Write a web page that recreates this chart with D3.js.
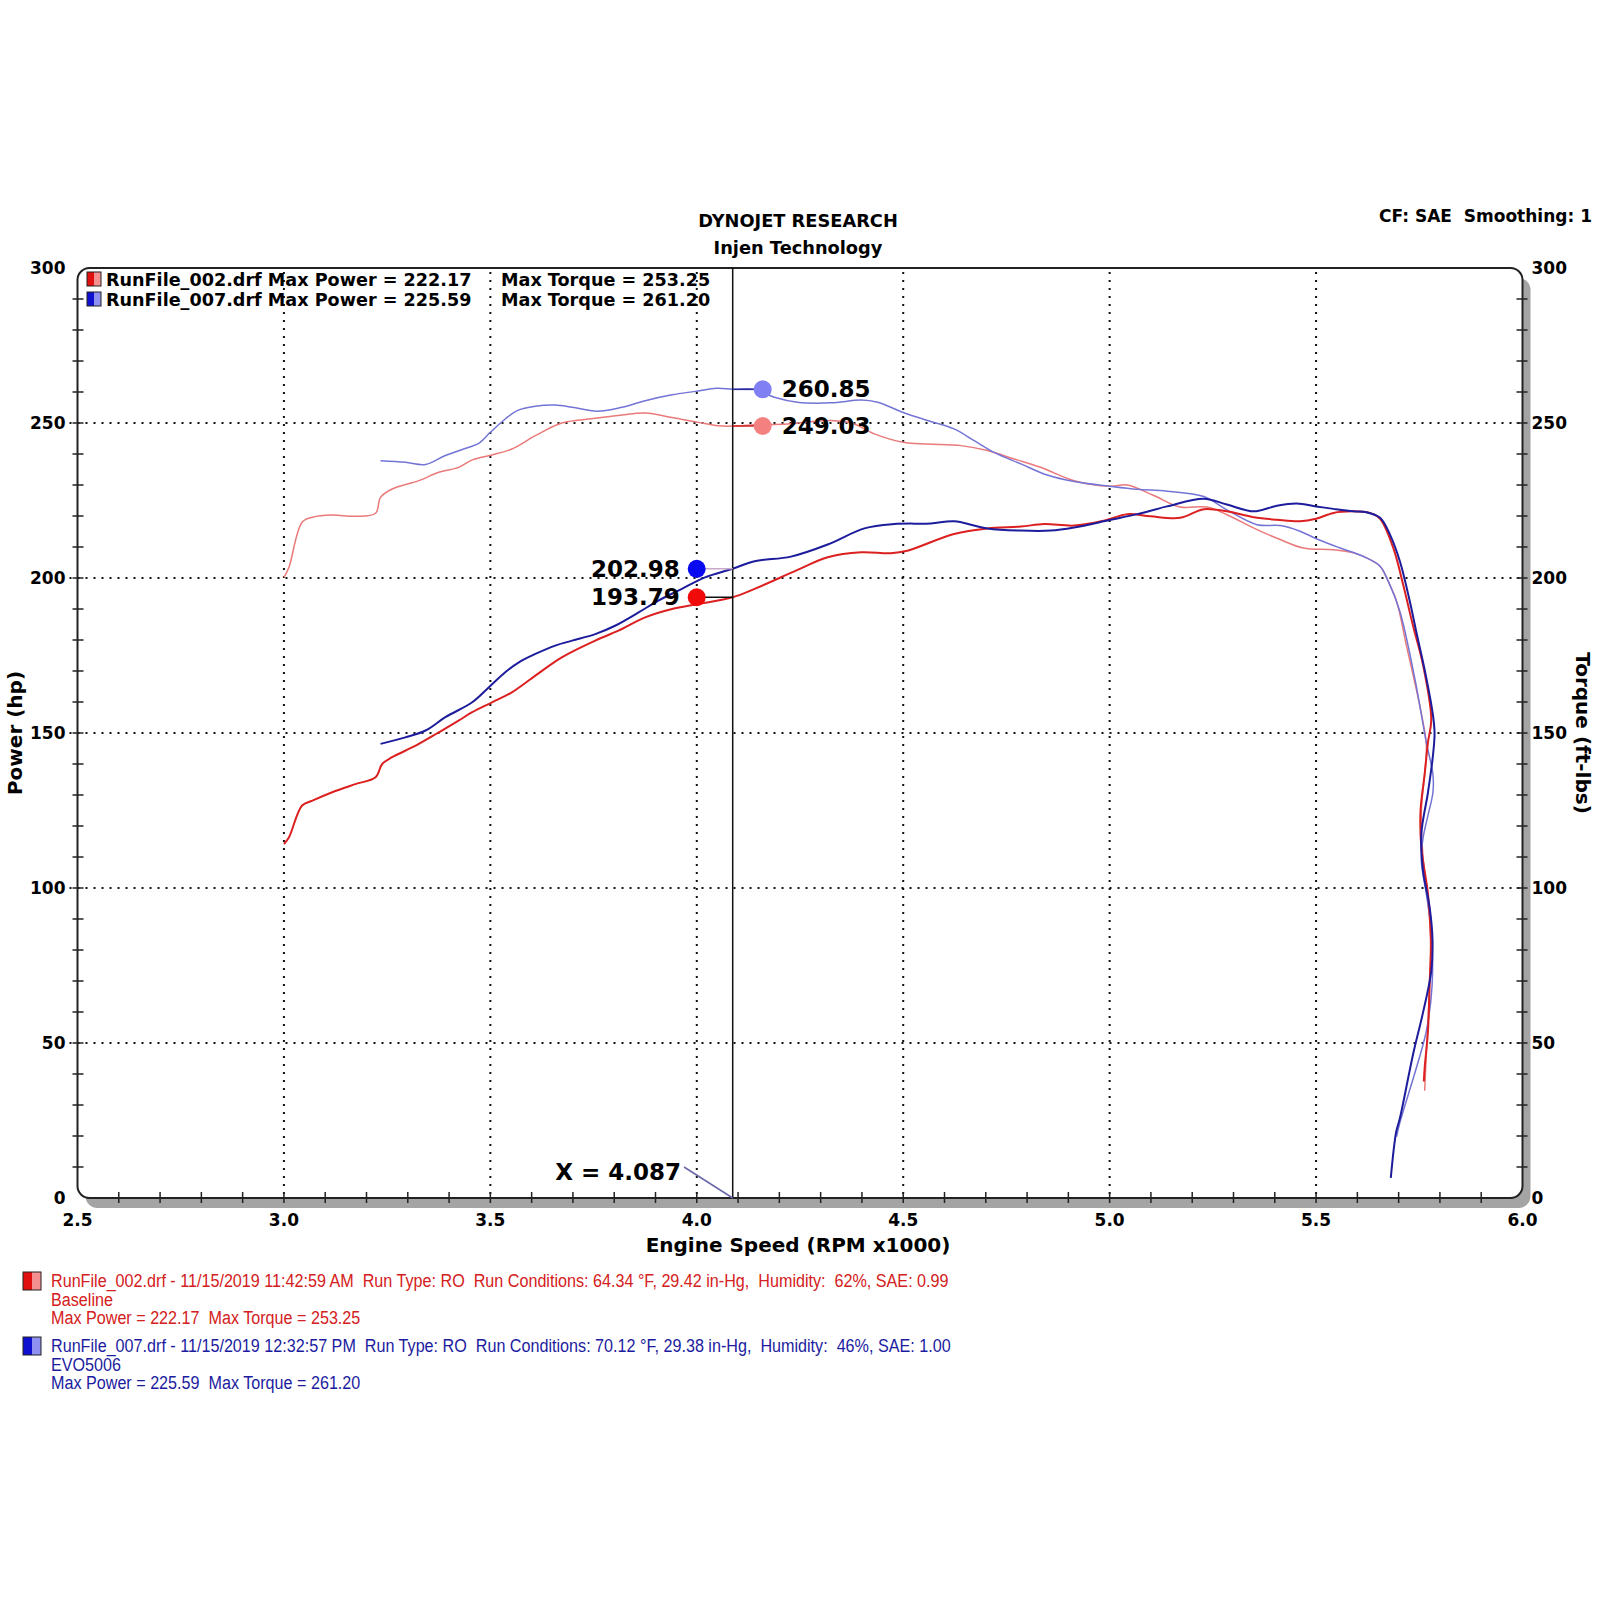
<!DOCTYPE html>
<html lang="en">
<head>
    <meta charset="UTF-8">
    <title>Dyno chart</title>
    <script src="https://d3js.org/d3.v7.min.js"></script>
    <style>
        body {margin: 0; background: white;}
        text {font-family: "DejaVu Sans", sans-serif; font-weight: bold; white-space: pre;}
        .foot {font-family: "Liberation Sans", Arial, sans-serif; font-weight: normal; font-size: 19px;}
    </style>
</head>
<body>
<script>
    const width = 1600;
    const height = 1600;

    // plot frame
    const L = 77.5, R = 1522.5, T = 268, B = 1198;

    // [rpm x1000, value] pairs, in recorded order
    const powerBase = [[3.000,114.2],[3.012,116.3],[3.044,126.6],[3.069,128.2],[3.117,130.9],[3.173,133.5],[3.222,135.7],[3.238,140.0],[3.262,142.2],[3.319,145.9],[3.375,150.2],[3.423,154.0],[3.456,156.7],[3.504,159.9],[3.552,163.1],[3.609,168.5],[3.673,174.4],[3.754,179.8],[3.810,183.0],[3.875,187.3],[3.940,190.0],[4.004,191.6],[4.087,193.8],[4.140,196.5],[4.244,202.6],[4.317,206.7],[4.398,208.3],[4.470,208.0],[4.510,208.8],[4.623,214.2],[4.704,216.0],[4.785,216.6],[4.841,217.4],[4.914,216.9],[4.986,218.5],[5.043,220.6],[5.099,219.9],[5.171,219.4],[5.228,222.2],[5.284,221.5],[5.349,219.6],[5.405,218.8],[5.461,218.3],[5.500,219.1],[5.542,221.0],[5.590,221.5],[5.630,221.0],[5.655,219.1],[5.687,209.7],[5.711,197.8],[5.735,184.5],[5.759,172.0],[5.779,154.4],[5.771,147.0],[5.763,136.7],[5.753,124.9],[5.755,113.0],[5.771,98.2],[5.778,83.4],[5.775,68.6],[5.771,53.8],[5.763,42.0],[5.761,37.6]];

    const powerMod = [[3.234,146.5],[3.294,148.6],[3.343,150.8],[3.391,155.1],[3.456,159.9],[3.496,164.7],[3.536,169.6],[3.569,172.8],[3.609,175.5],[3.657,178.2],[3.698,179.8],[3.754,181.9],[3.802,184.6],[3.859,188.9],[3.907,192.7],[3.964,196.5],[4.020,200.2],[4.087,203.0],[4.140,205.4],[4.228,206.9],[4.317,210.8],[4.406,216.0],[4.478,217.4],[4.567,217.6],[4.623,218.3],[4.704,216.0],[4.785,215.3],[4.857,215.3],[4.914,216.3],[5.000,218.7],[5.067,220.6],[5.139,223.1],[5.228,225.6],[5.284,223.7],[5.349,221.5],[5.405,223.3],[5.453,224.0],[5.500,223.1],[5.542,222.3],[5.590,221.5],[5.622,221.2],[5.655,219.4],[5.679,214.0],[5.703,205.4],[5.727,192.5],[5.743,182.5],[5.767,167.8],[5.783,155.9],[5.787,150.0],[5.783,142.6],[5.771,130.8],[5.755,117.5],[5.759,105.6],[5.775,93.8],[5.782,83.4],[5.779,73.1],[5.759,59.8],[5.735,46.4],[5.703,25.7],[5.694,21.3],[5.681,6.5]];

    const torqueBase = [[3.000,200.2],[3.012,203.4],[3.044,218.0],[3.069,219.6],[3.117,220.3],[3.173,219.9],[3.222,220.9],[3.234,226.0],[3.262,228.7],[3.327,231.4],[3.375,234.1],[3.423,235.7],[3.456,238.1],[3.504,239.7],[3.552,241.6],[3.609,245.9],[3.673,250.0],[3.754,251.5],[3.819,252.6],[3.875,253.2],[3.940,251.8],[4.004,250.2],[4.052,249.1],[4.087,249.0],[4.140,249.4],[4.220,249.7],[4.325,250.8],[4.381,249.7],[4.430,246.5],[4.500,243.8],[4.559,243.2],[4.640,242.7],[4.704,241.1],[4.769,238.4],[4.833,235.7],[4.914,231.4],[5.000,229.6],[5.043,230.0],[5.107,226.6],[5.171,222.9],[5.236,222.9],[5.284,220.4],[5.357,215.6],[5.413,212.4],[5.469,209.7],[5.542,209.1],[5.590,208.1],[5.622,206.5],[5.655,203.8],[5.671,200.0],[5.695,192.5],[5.719,178.1],[5.751,158.9],[5.767,146.3],[5.763,136.7],[5.755,124.9],[5.759,110.1],[5.771,95.3],[5.778,83.4],[5.774,65.7],[5.767,46.4],[5.763,34.6]];

    const torqueMod = [[3.234,237.8],[3.294,237.3],[3.343,236.6],[3.391,239.5],[3.448,242.2],[3.472,243.4],[3.500,247.0],[3.536,251.3],[3.565,254.0],[3.609,255.4],[3.657,255.8],[3.698,255.1],[3.758,253.8],[3.819,255.1],[3.875,257.2],[3.940,259.1],[3.996,260.2],[4.048,261.2],[4.087,260.9],[4.140,260.9],[4.188,258.3],[4.244,256.7],[4.325,256.5],[4.398,257.4],[4.438,256.7],[4.500,253.4],[4.559,250.8],[4.623,248.1],[4.672,244.3],[4.720,240.5],[4.785,236.8],[4.849,233.2],[4.914,231.1],[5.000,229.6],[5.067,228.6],[5.139,228.0],[5.228,226.3],[5.284,222.0],[5.357,217.2],[5.413,216.9],[5.461,215.1],[5.502,212.6],[5.558,209.7],[5.614,207.0],[5.655,203.8],[5.675,198.9],[5.703,189.2],[5.739,167.7],[5.767,147.0],[5.783,136.7],[5.783,130.8],[5.771,123.4],[5.759,116.0],[5.755,108.6],[5.767,98.2],[5.779,86.4],[5.781,68.6],[5.767,53.8],[5.743,42.0],[5.703,24.3],[5.695,19.8]];

    const xTicks = [2.5, 3.0, 3.5, 4.0, 4.5, 5.0, 5.5, 6.0];
    const yTicks = [0, 50, 100, 150, 200, 250, 300];

    const cursorX = 4.087;
    const readouts = [
        {side: "power",  value: 202.98, label: "202.98", color: "#0a0af0", link: "#c8a8c8"},
        {side: "power",  value: 193.79, label: "193.79", color: "#f00a0a", link: "#111"},
        {side: "torque", value: 260.85, label: "260.85", color: "#8080f4", link: "#2a2aa0"},
        {side: "torque", value: 249.03, label: "249.03", color: "#f48080", link: "#d02020"}
    ];

    const legendRows = [
        {name: "RunFile_002.drf", power: "222.17", torque: "253.25", dark: "#e01010", light: "#f49090"},
        {name: "RunFile_007.drf", power: "225.59", torque: "261.20", dark: "#1010d0", light: "#9090f0"}
    ];

    const footRuns = [
        {lines: ["RunFile_002.drf - 11/15/2019 11:42:59 AM  Run Type: RO  Run Conditions: 64.34 °F, 29.42 in-Hg,  Humidity:  62%, SAE: 0.99",
                 "Baseline", "Max Power = 222.17  Max Torque = 253.25"], color: "#d42020", dark: "#e01010", light: "#f49090"},
        {lines: ["RunFile_007.drf - 11/15/2019 12:32:57 PM  Run Type: RO  Run Conditions: 70.12 °F, 29.38 in-Hg,  Humidity:  46%, SAE: 1.00",
                 "EVO5006", "Max Power = 225.59  Max Torque = 261.20"], color: "#1c1ca0", dark: "#1010d0", light: "#9090f0"}
    ];

    const svg = d3.select("body").append("svg")
            .attr("width", width).attr("height", height);

    const x = d3.scaleLinear().domain([2.5, 6.0]).range([L, R]);
    const y = d3.scaleLinear().domain([0, 300]).range([B, T]);

    // frame shadow + background
    svg.append("rect")
            .attr("x", L + 8).attr("y", T + 10).attr("width", R - L).attr("height", B - T)
            .attr("rx", 12).style("fill", "#a4a4a4");
    svg.append("rect")
            .attr("x", L).attr("y", T).attr("width", R - L).attr("height", B - T)
            .attr("rx", 12).style("fill", "white");

    // titles
    svg.append("text").attr("x", 798).attr("y", 227).attr("text-anchor", "middle")
            .style("font-size", "17.8px").text("DYNOJET RESEARCH");
    svg.append("text").attr("x", 798).attr("y", 254).attr("text-anchor", "middle")
            .style("font-size", "17.8px").text("Injen Technology");
    svg.append("text").attr("x", 1592).attr("y", 222).attr("text-anchor", "end")
            .style("font-size", "17px").text("CF: SAE  Smoothing: 1");

    // dotted grid
    const grid = svg.append("g").attr("class", "grid")
            .style("stroke", "#111").style("stroke-width", 2).style("stroke-dasharray", "2,6");
    grid.selectAll("line.v")
            .data(xTicks.filter(d => d > 2.5 && d < 6.0))
            .enter().append("line").attr("class", "v")
            .attr("x1", d => x(d)).attr("x2", d => x(d))
            .attr("y1", T + 4).attr("y2", B);
    grid.selectAll("line.h")
            .data(yTicks.filter(d => d > 0 && d < 300))
            .enter().append("line").attr("class", "h")
            .attr("x1", L - 8).attr("x2", R)
            .attr("y1", d => y(d)).attr("y2", d => y(d));

    // minor ticks crossing the frame
    const ticks = svg.append("g").style("stroke", "#222").style("stroke-width", 1.5);
    const yMinor = d3.range(10, 300, 10);
    const xMinor = d3.range(26, 60, 1).map(d => d / 10);
    ticks.selectAll("line.yl").data(yMinor).enter().append("line")
            .attr("x1", L - 5).attr("x2", L + 6).attr("y1", d => y(d)).attr("y2", d => y(d));
    ticks.selectAll("line.yr").data(yMinor).enter().append("line")
            .attr("x1", R - 6).attr("x2", R + 5).attr("y1", d => y(d)).attr("y2", d => y(d));
    ticks.selectAll("line.xb").data(xMinor).enter().append("line")
            .attr("x1", d => x(d)).attr("x2", d => x(d)).attr("y1", B - 6).attr("y2", B + 5);

    // frame border
    svg.append("rect")
            .attr("x", L).attr("y", T).attr("width", R - L).attr("height", B - T)
            .attr("rx", 12).style("fill", "none").style("stroke", "#222").style("stroke-width", 2);

    // tick labels
    svg.selectAll("text.yl").data(yTicks).enter().append("text")
            .attr("x", L - 12).attr("y", d => y(d) + 6).attr("text-anchor", "end")
            .style("font-size", "17px").text(d => d);
    svg.selectAll("text.yr").data(yTicks).enter().append("text")
            .attr("x", R + 9).attr("y", d => y(d) + 6)
            .style("font-size", "17px").text(d => d);
    svg.selectAll("text.xb").data(xTicks).enter().append("text")
            .attr("x", d => x(d)).attr("y", B + 28).attr("text-anchor", "middle")
            .style("font-size", "17px").text(d => d.toFixed(1));

    // axis titles
    svg.append("text").attr("x", (L + R) / 2 - 2).attr("y", 1252).attr("text-anchor", "middle")
            .style("font-size", "20px").text("Engine Speed (RPM x1000)");
    svg.append("text").attr("transform", "translate(22,733) rotate(-90)").attr("text-anchor", "middle")
            .style("font-size", "20px").text("Power (hp)");
    svg.append("text").attr("transform", "translate(1576,733) rotate(90)").attr("text-anchor", "middle")
            .style("font-size", "20px").text("Torque (ft-lbs)");

    // curves
    const line = d3.line().x(d => x(d[0])).y(d => y(d[1])).curve(d3.curveCatmullRom.alpha(0.5));
    const series = [
        {data: torqueBase, color: "#ea7a7a", w: 1.5},
        {data: torqueMod,  color: "#7474d6", w: 1.5},
        {data: powerBase,  color: "#dc2020", w: 2},
        {data: powerMod,   color: "#1c1c9c", w: 2}
    ];
    svg.selectAll("path.curve").data(series).enter().append("path")
            .attr("class", "curve")
            .attr("d", d => line(d.data))
            .style("fill", "none")
            .style("stroke", d => d.color)
            .style("stroke-width", d => d.w)
            .style("stroke-linejoin", "round");

    // cursor
    const cx = x(cursorX);
    svg.append("line").attr("x1", cx).attr("x2", cx).attr("y1", T).attr("y2", B)
            .style("stroke", "#111").style("stroke-width", 1.5);
    svg.append("line").attr("x1", 684).attr("y1", 1167).attr("x2", cx).attr("y2", B)
            .style("stroke", "#6868a8").style("stroke-width", 1.5);
    svg.append("text").attr("x", 681).attr("y", 1180).attr("text-anchor", "end")
            .style("font-size", "23px").text("X = " + cursorX.toFixed(3));

    // readout markers
    const mk = svg.selectAll("g.readout").data(readouts).enter().append("g").attr("class", "readout");
    const mx = d => d.side === "power" ? cx - 36 : cx + 30;
    mk.append("line")
            .attr("x1", mx).attr("x2", cx)
            .attr("y1", d => y(d.value)).attr("y2", d => y(d.value))
            .style("stroke", d => d.link).style("stroke-width", 1.5);
    mk.append("circle")
            .attr("cx", mx).attr("cy", d => y(d.value)).attr("r", 9)
            .style("fill", d => d.color);
    mk.append("text")
            .attr("x", d => d.side === "power" ? mx(d) - 17 : mx(d) + 19)
            .attr("y", d => y(d.value) + 8)
            .attr("text-anchor", d => d.side === "power" ? "end" : "start")
            .style("font-size", "23px").text(d => d.label);

    // legend inside plot
    const lg = svg.selectAll("g.legend").data(legendRows).enter().append("g")
            .attr("class", "legend")
            .attr("transform", (d, i) => `translate(0,${i * 20})`);
    lg.append("rect").attr("x", 87).attr("y", 272).attr("width", 7).attr("height", 14)
            .style("fill", d => d.dark);
    lg.append("rect").attr("x", 94).attr("y", 272).attr("width", 7).attr("height", 14)
            .style("fill", d => d.light);
    lg.append("rect").attr("x", 87).attr("y", 272).attr("width", 14).attr("height", 14)
            .style("fill", "none").style("stroke", "#222").style("stroke-width", 1);
    lg.append("text").attr("x", 106).attr("y", 286).style("font-size", "17.6px")
            .text(d => `${d.name} Max Power = ${d.power}`);
    lg.append("text").attr("x", 501).attr("y", 286).style("font-size", "17.6px")
            .text(d => `Max Torque = ${d.torque}`);

    // footer run info
    const ft = svg.selectAll("g.foot").data(footRuns).enter().append("g")
            .attr("class", "foot")
            .attr("transform", (d, i) => `translate(0,${1272 + i * 65})`);
    ft.append("rect").attr("x", 23).attr("y", 0).attr("width", 9).attr("height", 18)
            .style("fill", d => d.dark);
    ft.append("rect").attr("x", 32).attr("y", 0).attr("width", 9).attr("height", 18)
            .style("fill", d => d.light);
    ft.append("rect").attr("x", 23).attr("y", 0).attr("width", 18).attr("height", 18)
            .style("fill", "none").style("stroke", "#222").style("stroke-width", 1);
    ft.each(function(d) {
        d3.select(this).selectAll("text").data(d.lines).enter().append("text")
                .attr("class", "foot")
                .attr("transform", (t, i) => `translate(51,${15 + i * 18.5}) scale(0.85,1)`)
                .style("fill", d.color)
                .text(t => t);
    });
</script>
</body>
</html>
